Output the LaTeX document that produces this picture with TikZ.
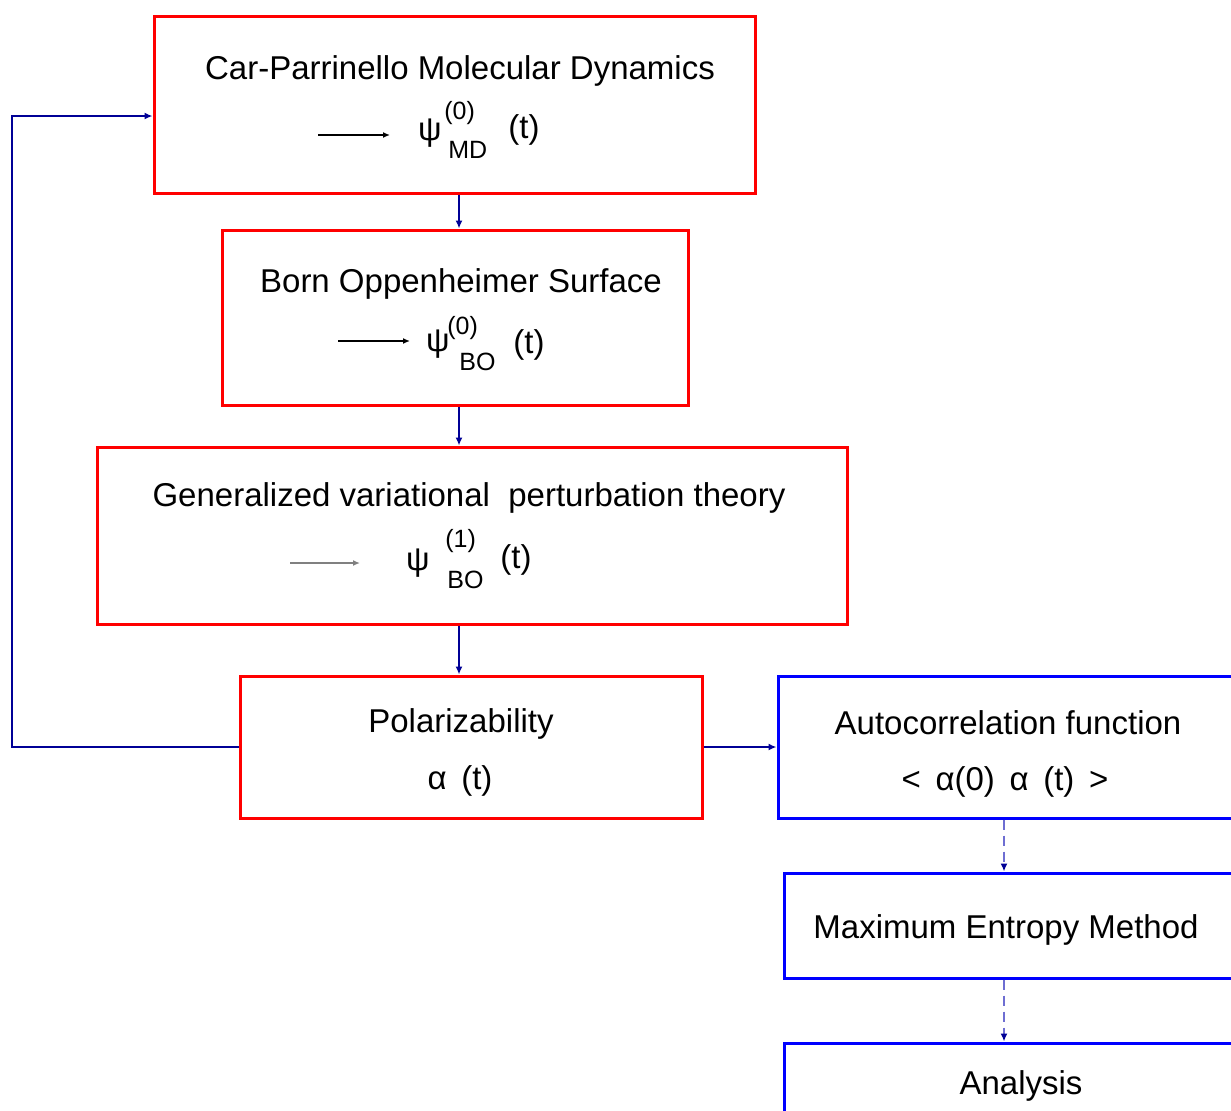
\documentclass[tikz,border=0pt]{standalone}
\usepackage{fontspec}
\setmainfont{Liberation Sans}
\usetikzlibrary{arrows.meta}
\definecolor{boxred}{RGB}{255,0,0}
\definecolor{boxblue}{RGB}{0,0,255}
\definecolor{navy}{RGB}{0,0,150}
\definecolor{dashblue}{RGB}{110,110,210}
\tikzset{
  redbox/.style={draw=boxred, line width=1.5pt, rectangle, inner sep=0pt, fill=none},
  bluebox/.style={draw=boxblue, line width=1.5pt, rectangle, inner sep=0pt, fill=none},
  txt/.style={inner sep=0pt, yshift=-1.5pt, font=\fontsize{16.5}{20}\selectfont},
  small/.style={inner sep=0pt, font=\fontsize{12.5}{14}\selectfont},
  conn/.style={draw=navy, line width=1pt, -{Latex[length=4pt,width=3.5pt]}},
  dconn/.style={draw=dashblue, line width=1pt, dash pattern=on 5pt off 3pt, -{Latex[length=4pt,width=3.5pt,color=navy]}},
  inarrow/.style={line width=0.8pt, -{Latex[length=3.5pt,width=3pt]}}
}
\begin{document}
\begin{tikzpicture}[x=0.5pt,y=-0.5pt]
\clip (0,0) rectangle (1231,1110);
\fill[white] (0,0) rectangle (1231,1110);
% boxes
\node[redbox, minimum width=300.5pt, minimum height=88.5pt] (cpmd) at (454.5,104.5) {};
\node[redbox, minimum width=233pt, minimum height=87.5pt] (bo) at (455,317.5) {};
\node[redbox, minimum width=375pt, minimum height=88.5pt] (gv) at (472,535.5) {};
\node[redbox, minimum width=231pt, minimum height=71pt] (pol) at (471,747) {};
\node[bluebox, minimum width=261pt, minimum height=71pt] (auto) at (1039,747) {};
\node[bluebox, minimum width=258pt, minimum height=52.5pt] (mem) at (1042,925.5) {};
\node[bluebox, minimum width=258pt, minimum height=78.5pt] (ana) at (1042,1121.5) {};
% texts CPMD
\node[txt] (t1) at (460,68) {Car-Parrinello Molecular Dynamics};
\node[txt] (p1) at (430,130) {ψ};
\node[small, anchor=west] (p1s) at (444,113) {(0)};
\node[small, anchor=west] (p1b) at (448,150) {MD};
\node[txt] (p1t) at (524,127) {(t)};
\coordinate (a1s) at (318,135);
\coordinate (a1e) at (390,135);
\draw[inarrow] (a1s) -- (a1e);
% texts BO
\node[txt] (t2) at (461,281) {Born Oppenheimer Surface};
\node[txt] (p2) at (438,341) {ψ};
\node[small, anchor=west] (p2s) at (447,328) {(0)};
\node[small, anchor=west] (p2b) at (459,362) {BO};
\node[txt] (p2t) at (529,342) {(t)};
\coordinate (a2s) at (338,341);
\coordinate (a2e) at (410,341);
\draw[inarrow] (a2s) -- (a2e);
% texts GVPT
\node[txt] (t3) at (469,495) {Generalized variational \ perturbation theory};
\node[txt] (p3) at (418,560) {ψ};
\node[small, anchor=west] (p3s) at (445,541) {(1)};
\node[small, anchor=west] (p3b) at (447,580) {BO};
\node[txt] (p3t) at (516,557) {(t)};
\coordinate (a3s) at (290,563);
\coordinate (a3e) at (360,563);
\draw[inarrow, draw=gray] (a3s) -- (a3e);
% Polarizability
\node[txt] (t4) at (461,721) {Polarizability};
\node[txt] (p4) at (460,778) {α \,(t)};
% Autocorrelation
\node[txt] (t5) at (1008,720) {Autocorrelation function};
\node[txt] (p5) at (1005,779) {<\, α(0) \,α \,(t) \,>};
% MEM, Analysis
\node[txt] (t6) at (1006,927) {Maximum Entropy Method};
\node[txt] (t7) at (1021,1083) {Analysis};
% connectors
\coordinate (spine) at (459,0);
\coordinate (rspine) at (1004,0);
\coordinate (fb) at (12,116);
\draw[conn] (spine |- cpmd.south) -- (spine |- bo.north);
\draw[conn] (spine |- bo.south) -- (spine |- gv.north);
\draw[conn] (spine |- gv.south) -- (spine |- pol.north);
\draw[conn] (pol.west) -| (fb) -- (fb -| cpmd.west);
\draw[conn] (pol.east) -- (auto.west);
\draw[dconn] (rspine |- auto.south) -- (rspine |- mem.north);
\draw[dconn] (rspine |- mem.south) -- (rspine |- ana.north);
\end{tikzpicture}
\end{document}
